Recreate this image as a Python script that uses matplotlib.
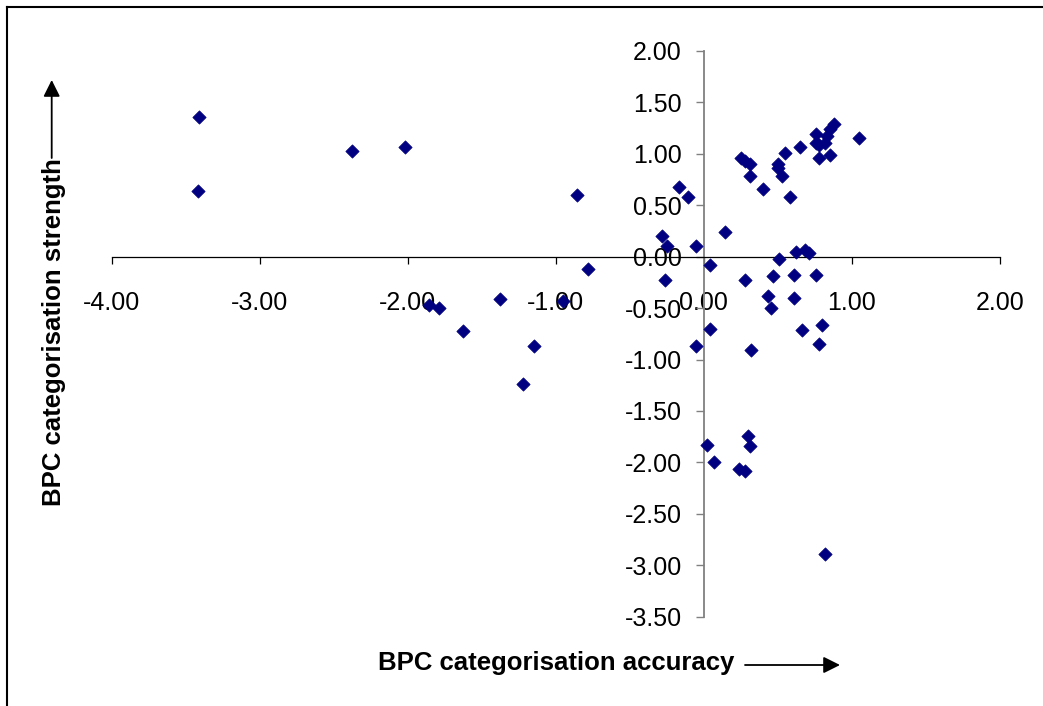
import matplotlib
matplotlib.use("Agg")
from matplotlib import pyplot as plt
from matplotlib.lines import Line2D
from matplotlib.ticker import FormatStrFormatter

plt.rcParams["font.family"] = ["Liberation Sans", "DejaVu Sans"]
plt.rcParams["axes.unicode_minus"] = False

# categorisation accuracy (x) and strength (y)
accuracy = [-3.41, -3.42, -2.38, -2.02, -0.86, -0.78, -1.86, -1.79, -1.63, -1.38, -0.95, -1.15, -1.22,
            -0.17, -0.11, -0.28, -0.25, -0.05, 0.14, -0.26, 0.04,
            0.25, 0.28, 0.31, 0.31, 0.40, 0.50, 0.50, 0.53, 0.55, 0.58, 0.65, 0.76, 0.76, 0.78,
            0.82, 0.83, 0.85, 0.88, 0.78, 0.85, 1.05,
            0.51, 0.62, 0.68, 0.71, 0.47, 0.61, 0.76, 0.28, 0.43, 0.45, 0.61,
            0.04, -0.05, 0.32, 0.66, 0.80, 0.78, 0.02, 0.07, 0.30, 0.31, 0.24, 0.28, 0.82]
strength = [1.36, 0.64, 1.03, 1.07, 0.60, -0.12, -0.47, -0.50, -0.72, -0.41, -0.43, -0.87, -1.24,
            0.68, 0.58, 0.20, 0.10, 0.10, 0.24, -0.23, -0.08,
            0.96, 0.93, 0.90, 0.78, 0.66, 0.90, 0.86, 0.78, 1.01, 0.58, 1.07, 1.19, 1.11, 1.09,
            1.11, 1.17, 1.24, 1.29, 0.955, 0.99, 1.15,
            -0.02, 0.05, 0.07, 0.04, -0.19, -0.175, -0.175, -0.23, -0.38, -0.50, -0.40,
            -0.70, -0.87, -0.91, -0.71, -0.66, -0.85, -1.83, -2.00, -1.74, -1.84, -2.06, -2.08, -2.89]

x_ticks = [-4, -3, -2, -1, 0, 1, 2]
y_ticks = [2.0, 1.5, 1.0, 0.5, 0.0, -0.5, -1.0, -1.5, -2.0, -2.5, -3.0, -3.5]

W, H = 1043, 706
fig = plt.figure(figsize=(W / 100, H / 100), dpi=100)
ax = fig.add_axes([111.7 / W, 1 - 616.7 / H, (1000 - 111.7) / W, (616.7 - 51) / H])

ax.scatter(accuracy, strength, marker="D", s=46, color="#000080", linewidths=0.5, zorder=3)

ax.set_xlim(-4, 2)
ax.set_ylim(-3.5, 2)
ax.set_xticks(x_ticks)
ax.set_yticks(y_ticks)
ax.xaxis.set_major_formatter(FormatStrFormatter("%.2f"))
ax.yaxis.set_major_formatter(FormatStrFormatter("%.2f"))

for side in ["top", "right"]:
    ax.spines[side].set_visible(False)
ax.spines["left"].set_position(("data", 0))
ax.spines["bottom"].set_position(("data", 0))
ax.spines["left"].set_color("#808080")
ax.spines["left"].set_linewidth(1.3)
ax.spines["bottom"].set_color("black")
ax.spines["bottom"].set_linewidth(0.9)

ax.tick_params(axis="x", direction="out", length=5, width=0.9, color="black",
               labelsize=18, pad=19.5)
ax.tick_params(axis="y", direction="out", length=5.8, width=1.0, color="#808080",
               labelsize=18, pad=10)

# axis titles with arrows
fig.text(556 / W, 1 - 663 / H, "BPC categorisation accuracy", fontsize=18.5,
         fontweight="bold", ha="center", va="center")
ax.annotate("", xy=(840 / W, 1 - 665 / H), xytext=(745 / W, 1 - 665 / H),
            xycoords="figure fraction", textcoords="figure fraction",
            arrowprops=dict(arrowstyle="-|>,head_length=0.4,head_width=0.2",
                            mutation_scale=25, lw=1.3, color="black",
                            shrinkA=0, shrinkB=0))

fig.text(54 / W, 1 - 332 / H, "BPC categorisation strength", fontsize=18.5,
         fontweight="bold", rotation=90, ha="center", va="center")
ax.annotate("", xy=(51.7 / W, 1 - 80 / H), xytext=(51.7 / W, 1 - 158 / H),
            xycoords="figure fraction", textcoords="figure fraction",
            arrowprops=dict(arrowstyle="-|>,head_length=0.4,head_width=0.2",
                            mutation_scale=25, lw=1.3, color="black",
                            shrinkA=0, shrinkB=0))

# frame lines at top and left
fig.add_artist(Line2D([7 / W, 1], [1 - 7 / H, 1 - 7 / H], transform=fig.transFigure,
                      color="black", lw=1.5))
fig.add_artist(Line2D([7 / W, 7 / W], [0, 1 - 7 / H], transform=fig.transFigure,
                      color="black", lw=1.5))

fig.savefig("out.png", dpi=100)
